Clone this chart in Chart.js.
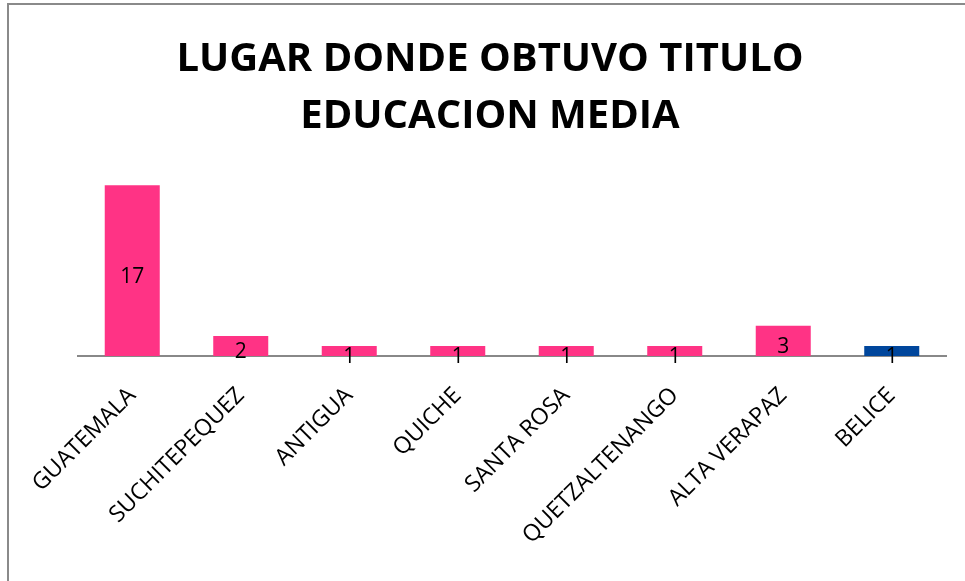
<!DOCTYPE html>
<html>
<head>
<meta charset="utf-8">
<script src="https://cdn.jsdelivr.net/npm/chart.js@4"></script>
<style>
  html, body { margin: 0; padding: 0; background: #fff; }
  #wrap { position: relative; width: 965px; height: 581px; }
</style>
</head>
<body>
<div id="wrap"><canvas id="lugarChart" width="965" height="581"></canvas></div>
<script>
const lugares = ["GUATEMALA", "SUCHITEPEQUEZ", "ANTIGUA", "QUICHE", "SANTA ROSA", "QUETZALTENANGO", "ALTA VERAPAZ", "BELICE"];
const cantidades = [17, 2, 1, 1, 1, 1, 3, 1];
const colores = ["#FF3385", "#FF3385", "#FF3385", "#FF3385", "#FF3385", "#FF3385", "#FF3385", "#00469C"];
const titulo = ["LUGAR DONDE OBTUVO TITULO", "EDUCACION MEDIA"];

// marco gris alrededor del grafico
const marco = {
    id: "marco",
    beforeDraw(chart) {
        const ctx = chart.ctx;
        ctx.save();
        ctx.fillStyle = "#fff";
        ctx.fillRect(0, 0, chart.width, chart.height);
        ctx.strokeStyle = "#8a8a8a";
        ctx.lineWidth = 2;
        ctx.beginPath();
        ctx.moveTo(8, chart.height);
        ctx.lineTo(8, 4);
        ctx.lineTo(chart.width, 4);
        ctx.stroke();
        ctx.restore();
    },
};

// etiquetas de valor dentro de cada barra
const etiquetas = {
    id: "etiquetas",
    afterDatasetsDraw(chart) {
        const ctx = chart.ctx;
        const meta = chart.getDatasetMeta(0);
        ctx.save();
        ctx.fillStyle = "#000";
        ctx.font = "21px 'Open Sans'";
        ctx.textAlign = "center";
        ctx.textBaseline = "middle";
        meta.data.forEach((bar, i) => {
            const y = (bar.y + bar.base) / 2 + 6;
            ctx.fillText(String(cantidades[i]), bar.x, y);
        });
        ctx.restore();
    },
};

Chart.defaults.font.family = "'Open Sans', sans-serif";
Chart.defaults.color = "#000";

new Chart(document.getElementById("lugarChart"), {
    type: "bar",
    data: {
        labels: lugares,
        datasets: [
            {
                data: cantidades,
                backgroundColor: colores,
                borderWidth: 0,
                barPercentage: 0.507,
                categoryPercentage: 1,
            },
        ],
    },
    options: {
        responsive: false,
        animation: false,
        layout: { padding: { top: 0, right: 19, bottom: 0, left: 34 } },
        plugins: {
            legend: { display: false },
            tooltip: { enabled: false },
            title: {
                display: true,
                text: titulo,
                color: "#000",
                font: { size: 40, weight: "bold", lineHeight: 1.425 },
                padding: { top: 31, bottom: 10 },
            },
        },
        scales: {
            x: {
                grid: { display: false },
                border: { display: true, color: "#888", width: 2 },
                ticks: {
                    autoSkip: false,
                    maxRotation: 45,
                    minRotation: 45,
                    padding: 18,
                    color: "#000",
                    font: { size: 23 },
                },
                afterFit(scale) { scale.height = 225; },
            },
            y: {
                min: 0,
                max: 20,
                grid: { display: false },
                border: { display: false },
                ticks: { display: false },
                afterFit(scale) { scale.width = 44; },
            },
        },
    },
    plugins: [marco, etiquetas],
});
</script>
</body>
</html>
